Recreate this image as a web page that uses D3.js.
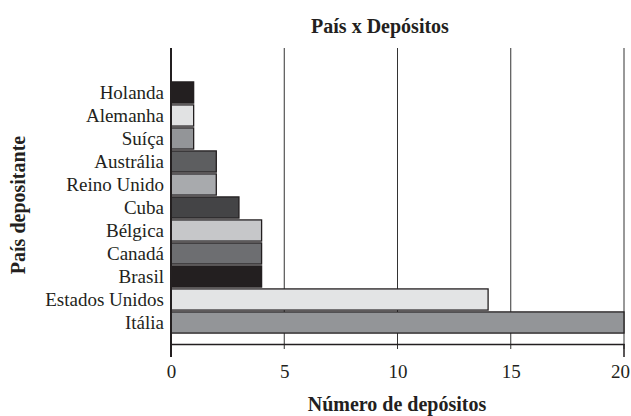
<!DOCTYPE html>
<html><head><meta charset="utf-8">
<script src="https://cdn.jsdelivr.net/npm/d3@7"></script>
<style>body{margin:0;background:#fff} svg text{font-family:"Liberation Serif","DejaVu Serif",serif;}</style>
</head><body><svg id="c" width="631" height="416"></svg>
<script>
const countries = ["Holanda","Alemanha","Suíça","Austrália","Reino Unido","Cuba","Bélgica","Canadá","Brasil","Estados Unidos","Itália"];
const deposits = [1,1,1,2,2,3,4,4,4,14,20];
const barColors = ["#231f20","#e1e2e3","#939598","#5d5e60","#a8aaad","#444446","#c6c7c9","#6d6e71","#231f20","#e3e4e5","#939598"];
const xTicks = [0,5,10,15,20];

const svg = d3.select("#c");
const font = '"Liberation Serif", "DejaVu Serif", serif';
const x = d3.scaleLinear().domain([0,20]).range([171,624]);
const y = d3.scaleBand().domain(countries).range([81,334]).paddingInner(0.08).paddingOuter(0.04);

// grid lines
svg.append("g").selectAll("line").data(xTicks.slice(1)).join("line")
  .attr("x1",d=>x(d)).attr("x2",d=>x(d)).attr("y1",48).attr("y2",349)
  .attr("stroke","#333").attr("stroke-width",1);

// bars
svg.append("g").selectAll("rect").data(countries).join("rect")
  .attr("x",x(0)).attr("y",d=>y(d))
  .attr("width",(d,i)=>x(deposits[i])-x(0)).attr("height",y.bandwidth())
  .attr("fill",(d,i)=>barColors[i]).attr("stroke","#231f20").attr("stroke-width",1.3);

// x axis
const xa = svg.append("g").attr("transform","translate(0,344)")
  .call(d3.axisBottom(x).tickValues(xTicks).tickSize(0).tickPadding(21));
xa.attr("font-family",null);
xa.select(".domain").attr("stroke","#231f20").attr("stroke-width",1.5);
xa.selectAll("text").style("font-family",font).attr("font-size",19).attr("fill","#231f20")
  .attr("dx",d=>d===20?-4:0);

// y axis line
svg.append("line").attr("x1",x(0)).attr("x2",x(0)).attr("y1",48).attr("y2",357)
  .attr("stroke","#231f20").attr("stroke-width",2);
svg.append("line").attr("x1",x(20)).attr("x2",x(20)).attr("y1",344).attr("y2",357)
  .attr("stroke","#231f20").attr("stroke-width",1.5);

// y labels
const ya = svg.append("g").attr("transform",`translate(${x(0)},0)`)
  .call(d3.axisLeft(y).tickSize(0).tickPadding(7));
ya.attr("font-family",null);
ya.select(".domain").remove();
ya.selectAll("text").style("font-family",font).attr("font-size",19).attr("fill","#231f20");

// titles
svg.append("text").attr("x",380).attr("y",33).attr("text-anchor","middle")
  .style("font-family",font).attr("font-weight","bold").attr("font-size",20).attr("fill","#231f20")
  .text("País x Depósitos");
svg.append("text").attr("x",397).attr("y",411).attr("text-anchor","middle")
  .style("font-family",font).attr("font-weight","bold").attr("font-size",20).attr("fill","#231f20")
  .text("Número de depósitos");
svg.append("text").attr("transform","translate(25,205) rotate(-90)").attr("text-anchor","middle")
  .style("font-family",font).attr("font-weight","bold").attr("font-size",20).attr("fill","#231f20")
  .text("País depositante");
</script></body></html>
